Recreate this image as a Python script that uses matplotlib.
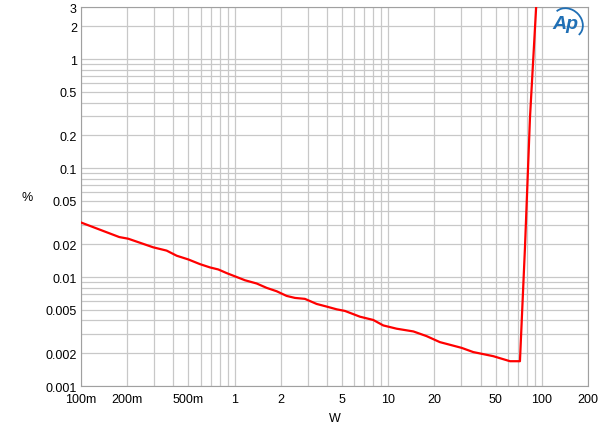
import numpy as np
import matplotlib.pyplot as plt
from matplotlib.patches import Arc

# Font settings
plt.rcParams['font.family'] = ['Liberation Sans', 'DejaVu Sans']
plt.rcParams['font.size'] = 9

# THD+N vs output power
power_w = [0.1, 0.1775, 0.203, 0.2955, 0.361, 0.42, 0.4995, 0.595, 0.691, 0.783,
           0.889, 1.169, 1.393, 1.618, 1.88, 2.18, 2.47, 2.87, 3.42, 3.98,
           4.62, 5.23, 6.55, 8.0, 9.29, 11.35, 14.6, 17.8, 21.7, 30.1,
           35.8, 48.3, 62.1, 72.1, 77.7, 83.8, 92.7]
thd_pct = [0.0317, 0.0233, 0.0225, 0.01875, 0.0175, 0.0157, 0.01452, 0.01315, 0.01227, 0.01175,
           0.01087, 0.00935, 0.00873, 0.00796, 0.00741, 0.00672, 0.00644, 0.00631, 0.00567, 0.00536,
           0.00506, 0.00489, 0.00433, 0.00404, 0.0036, 0.00336, 0.00317, 0.00287, 0.00253, 0.00224,
           0.00205, 0.00188, 0.00169, 0.00169, 0.01837, 0.29, 3.72]

x_ticks = [0.1, 0.2, 0.5, 1, 2, 5, 10, 20, 50, 100, 200]
x_labels = ['100m', '200m', '500m', '1', '2', '5', '10', '20', '50', '100', '200']
y_ticks = [0.001, 0.002, 0.005, 0.01, 0.02, 0.05, 0.1, 0.2, 0.5, 1, 2, 3]
y_labels = ['0.001', '0.002', '0.005', '0.01', '0.02', '0.05', '0.1', '0.2', '0.5', '1', '2', '3']

fig = plt.figure(figsize=[6, 4.31], dpi=100)
ax = fig.add_axes([0.135, 0.102, 0.845, 0.879])

ax.plot(power_w, thd_pct, color='#ff0000', linewidth=1.6, zorder=3)

ax.set_xscale('log')
ax.set_yscale('log')
ax.set_xlim([0.1, 200])
ax.set_ylim([0.001, 3])

ax.set_xticks(x_ticks)
ax.set_xticklabels(x_labels)
ax.set_yticks(y_ticks)
ax.set_yticklabels(y_labels)
ax.minorticks_on()
ax.tick_params(which='both', length=0, labelsize=9, colors='black')
ax.tick_params(axis='x', pad=5)
ax.tick_params(axis='y', pad=3)

# Сетка по всем декадным делениям
ax.grid(which='both', color='#c8c8c8', linewidth=0.9)
for s in ax.spines.values():
    s.set_color('#a0a0a0')

ax.set_xlabel('W', fontsize=9, labelpad=5)
ax.set_ylabel('%', fontsize=9, rotation=0, va='center')
ax.yaxis.set_label_coords(-0.107, 0.5)

# Логотип AP в правом верхнем углу
ax.text(0.955, 0.958, 'Ap', transform=ax.transAxes, color='#1f6fb5', fontsize=14,
        fontstyle='italic', fontweight='bold', ha='center', va='center', zorder=4)
ax.add_patch(Arc((0.96, 0.958), 0.058, 0.08, angle=15, theta1=-70, theta2=110,
                 transform=ax.transAxes, color='#1f6fb5', linewidth=1.3, zorder=4))

plt.savefig('out.png', dpi=100)
